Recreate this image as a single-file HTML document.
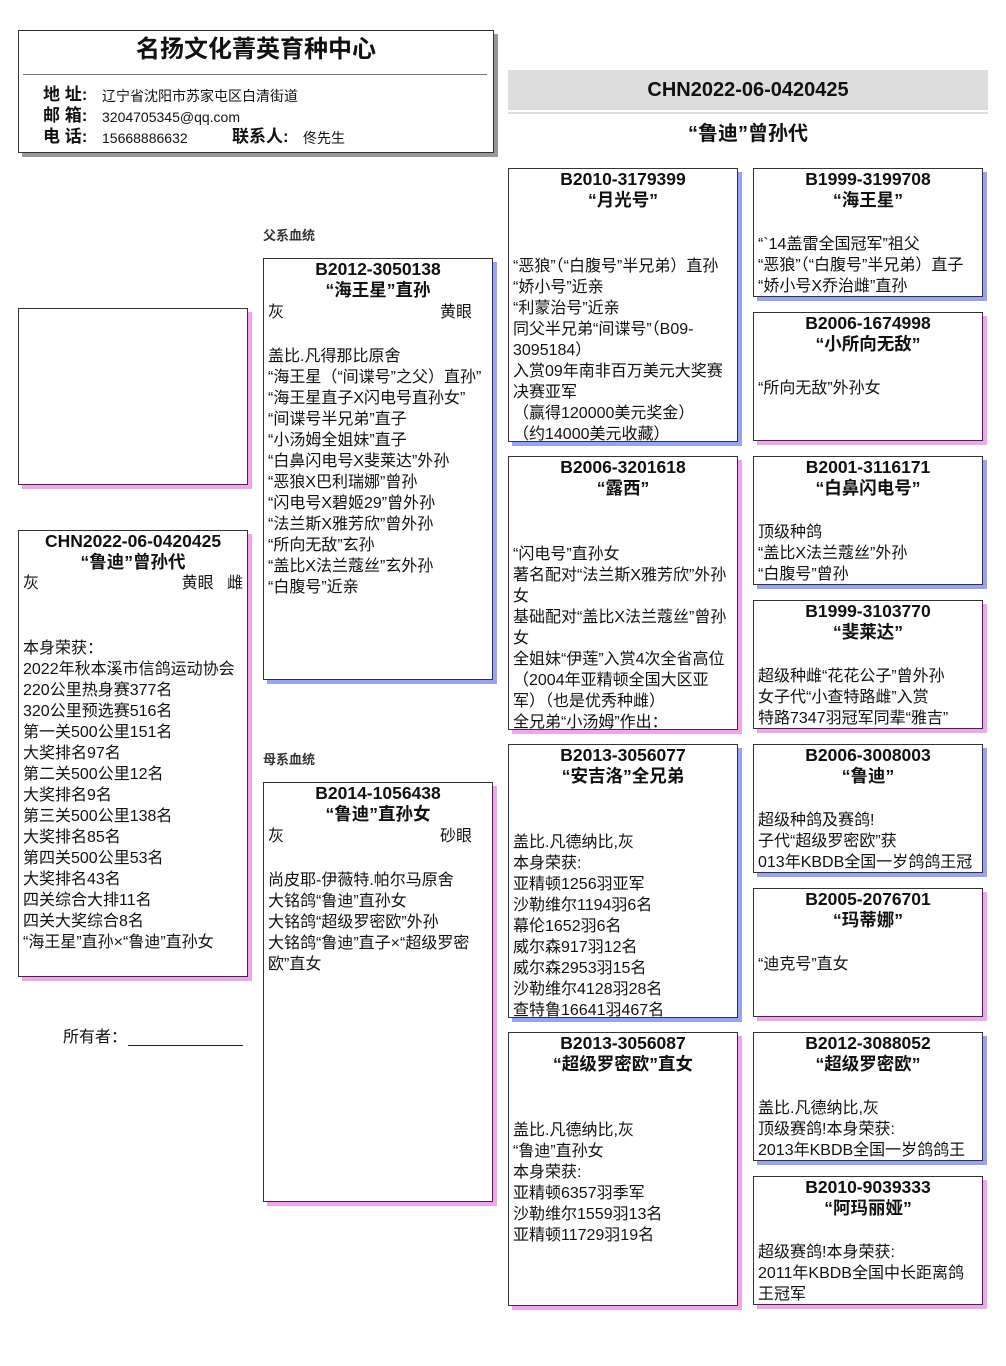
<!DOCTYPE html>
<html><head><meta charset="utf-8">
<style>
*{margin:0;padding:0;box-sizing:border-box}
body{width:1006px;height:1366px;background:#fff;position:relative;font-family:"Liberation Sans","Noto Sans CJK SC",sans-serif;color:#111;overflow:hidden}
.a{position:absolute}
.box{position:absolute;border:1px solid #333;background:#fff;overflow:hidden}
.m{box-shadow:4px 4px 0 #99a3f5}
.f{box-shadow:4px 4px 0 #f5a3f0}
.t{position:absolute;left:0;right:0;top:0;text-align:center;font-weight:bold;font-size:17.5px;line-height:21px}
.b{position:absolute;left:4px;font-size:16px;line-height:21px;white-space:nowrap}
.c{position:absolute;left:4px;right:10px;font-size:16px;line-height:21px}
.c span{float:right}
.lab{font-size:13px;font-weight:bold;color:#333}
</style></head><body>

<div class="box" style="left:18px;top:30px;width:476px;height:123px;box-shadow:4px 4px 0 #999"></div>
<div class="a" style="left:18px;top:35px;width:476px;text-align:center;font-size:24px;font-weight:bold;line-height:30px">名扬文化菁英育种中心</div>
<div class="a" style="left:23px;top:74px;width:464px;height:1px;background:#777"></div>
<div class="a" style="left:43px;top:84px;font-size:17px;font-weight:bold;line-height:21px">地 址:</div>
<div class="a" style="left:102px;top:86px;font-size:14px;line-height:20px">辽宁省沈阳市苏家屯区白清街道</div>
<div class="a" style="left:43px;top:105px;font-size:17px;font-weight:bold;line-height:21px">邮 箱:</div>
<div class="a" style="left:102px;top:107px;font-size:14px;line-height:20px">3204705345@qq.com</div>
<div class="a" style="left:43px;top:126px;font-size:17px;font-weight:bold;line-height:21px">电 话:</div>
<div class="a" style="left:102px;top:128px;font-size:14px;line-height:20px">15668886632</div>
<div class="a" style="left:232px;top:126px;font-size:17px;font-weight:bold;line-height:21px">联系人:</div>
<div class="a" style="left:303px;top:128px;font-size:14px;line-height:20px">佟先生</div>

<div class="a" style="left:508px;top:70px;width:480px;height:40px;background:#ddd;text-align:center;font-size:20px;font-weight:bold;line-height:40px">CHN2022-06-0420425</div>
<div class="a" style="left:508px;top:112px;width:480px;height:2px;background:#ddd"></div>
<div class="a" style="left:508px;top:121px;width:480px;text-align:center;font-size:20px;font-weight:bold;line-height:26px">“鲁迪”曾孙代</div>

<div class="box f" style="left:18px;top:308px;width:230px;height:177px"></div>

<div class="box f" style="left:18px;top:530px;width:230px;height:447px">
<div class="t">CHN2022-06-0420425<br>“鲁迪”曾孙代</div>
<div class="c" style="top:42px;right:4px">灰<span>黄眼&nbsp;&nbsp;&nbsp;雌</span></div>
<div class="b" style="top:107px">本身荣获：<br>2022年秋本溪市信鸽运动协会<br>220公里热身赛377名<br>320公里预选赛516名<br>第一关500公里151名<br>大奖排名97名<br>第二关500公里12名<br>大奖排名9名<br>第三关500公里138名<br>大奖排名85名<br>第四关500公里53名<br>大奖排名43名<br>四关综合大排11名<br>四关大奖综合8名<br>“海王星”直孙×“鲁迪”直孙女</div>
</div>

<div class="a" style="left:63px;top:1027px;font-size:16px;line-height:21px">所有者：</div>
<div class="a" style="left:128px;top:1045px;width:115px;height:1px;background:#222"></div>

<div class="a lab" style="left:263px;top:225px">父系血统</div>
<div class="a lab" style="left:263px;top:749px">母系血统</div>

<div class="box m" style="left:263px;top:258px;width:230px;height:422px">
<div class="t">B2012-3050138<br>“海王星”直孙</div>
<div class="c" style="top:43px;right:20px">灰<span>黄眼</span></div>
<div class="b" style="top:87px">盖比.凡得那比原舍<br>“海王星（“间谍号”之父）直孙”<br>“海王星直子X闪电号直孙女”<br>“间谍号半兄弟”直子<br>“小汤姆全姐妹”直子<br>“白鼻闪电号X斐莱达”外孙<br>“恶狼X巴利瑞娜”曾孙<br>“闪电号X碧姬29”曾外孙<br>“法兰斯X雅芳欣”曾外孙<br>“所向无敌”玄孙<br>“盖比X法兰蔻丝”玄外孙<br>“白腹号”近亲</div>
</div>

<div class="box f" style="left:263px;top:782px;width:230px;height:420px">
<div class="t">B2014-1056438<br>“鲁迪”直孙女</div>
<div class="c" style="top:43px;right:20px">灰<span>砂眼</span></div>
<div class="b" style="top:87px">尚皮耶-伊薇特.帕尔马原舍<br>大铭鸽“鲁迪”直孙女<br>大铭鸽“超级罗密欧”外孙<br>大铭鸽“鲁迪”直子×“超级罗密<br>欧”直女</div>
</div>

<div class="box m" style="left:508px;top:168px;width:230px;height:274px">
<div class="t">B2010-3179399<br>“月光号”</div>
<div class="b" style="top:87px">“恶狼”（“白腹号”半兄弟）直孙<br>“娇小号”近亲<br>“利蒙治号”近亲<br>同父半兄弟“间谍号”（B09-<br>3095184）<br>入赏09年南非百万美元大奖赛<br>决赛亚军<br>（赢得120000美元奖金）<br>（约14000美元收藏）</div>
</div>
<div class="box f" style="left:508px;top:456px;width:230px;height:274px">
<div class="t">B2006-3201618<br>“露西”</div>
<div class="b" style="top:87px">“闪电号”直孙女<br>著名配对“法兰斯X雅芳欣”外孙<br>女<br>基础配对“盖比X法兰蔻丝”曾孙<br>女<br>全姐妹“伊莲”入赏4次全省高位<br>（2004年亚精顿全国大区亚<br>军）（也是优秀种雌）<br>全兄弟“小汤姆”作出：</div>
</div>
<div class="box m" style="left:508px;top:744px;width:230px;height:274px">
<div class="t">B2013-3056077<br>“安吉洛”全兄弟</div>
<div class="b" style="top:87px">盖比.凡德纳比,灰<br>本身荣获:<br>亚精顿1256羽亚军<br>沙勒维尔1194羽6名<br>幕伦1652羽6名<br>威尔森917羽12名<br>威尔森2953羽15名<br>沙勒维尔4128羽28名<br>查特鲁16641羽467名</div>
</div>
<div class="box f" style="left:508px;top:1032px;width:230px;height:274px">
<div class="t">B2013-3056087<br>“超级罗密欧”直女</div>
<div class="b" style="top:87px">盖比.凡德纳比,灰<br>“鲁迪”直孙女<br>本身荣获:<br>亚精顿6357羽季军<br>沙勒维尔1559羽13名<br>亚精顿11729羽19名</div>
</div>

<div class="box m" style="left:753px;top:168px;width:230px;height:129px">
<div class="t">B1999-3199708<br>“海王星”</div>
<div class="b" style="top:65px">“`14盖雷全国冠军”祖父<br>“恶狼”（“白腹号”半兄弟）直子<br>“娇小号X乔治雌”直孙</div>
</div>
<div class="box f" style="left:753px;top:312px;width:230px;height:129px">
<div class="t">B2006-1674998<br>“小所向无敌”</div>
<div class="b" style="top:65px">“所向无敌”外孙女</div>
</div>
<div class="box m" style="left:753px;top:456px;width:230px;height:129px">
<div class="t">B2001-3116171<br>“白鼻闪电号”</div>
<div class="b" style="top:65px">顶级种鸽<br>“盖比X法兰蔻丝”外孙<br>“白腹号”曾孙</div>
</div>
<div class="box f" style="left:753px;top:600px;width:230px;height:129px">
<div class="t">B1999-3103770<br>“斐莱达”</div>
<div class="b" style="top:65px">超级种雌“花花公子”曾外孙<br>女子代“小查特路雌”入赏<br>特路7347羽冠军同辈“雅吉”</div>
</div>
<div class="box m" style="left:753px;top:744px;width:230px;height:129px">
<div class="t">B2006-3008003<br>“鲁迪”</div>
<div class="b" style="top:65px">超级种鸽及赛鸽!<br>子代“超级罗密欧”获<br>013年KBDB全国一岁鸽鸽王冠</div>
</div>
<div class="box f" style="left:753px;top:888px;width:230px;height:129px">
<div class="t">B2005-2076701<br>“玛蒂娜”</div>
<div class="b" style="top:65px">“迪克号”直女</div>
</div>
<div class="box m" style="left:753px;top:1032px;width:230px;height:129px">
<div class="t">B2012-3088052<br>“超级罗密欧”</div>
<div class="b" style="top:65px">盖比.凡德纳比,灰<br>顶级赛鸽!本身荣获:<br>2013年KBDB全国一岁鸽鸽王</div>
</div>
<div class="box f" style="left:753px;top:1176px;width:230px;height:129px">
<div class="t">B2010-9039333<br>“阿玛丽娅”</div>
<div class="b" style="top:65px">超级赛鸽!本身荣获:<br>2011年KBDB全国中长距离鸽<br>王冠军</div>
</div>

</body></html>
